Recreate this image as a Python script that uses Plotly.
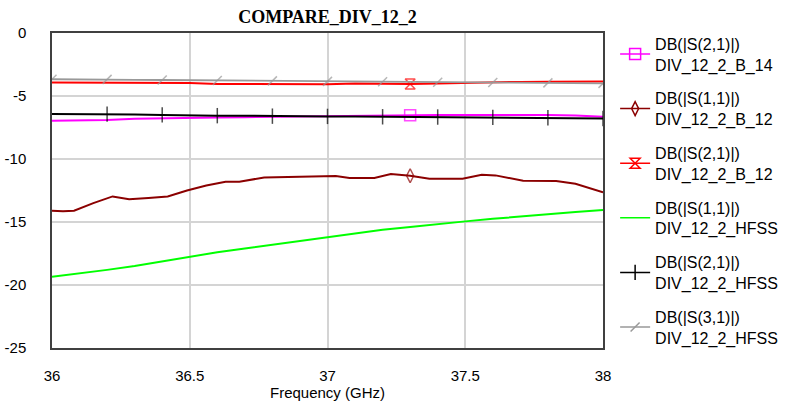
import plotly.graph_objects as go

# ---------------- data ----------------
hfss_freq = [36.0, 36.1, 36.2, 36.3, 36.4, 36.5, 36.6, 36.7, 36.8, 36.9, 37.0,
             37.1, 37.2, 37.3, 37.4, 37.5, 37.6, 37.7, 37.8, 37.9, 38.0]
s11_hfss = [-19.35, -19.1, -18.8, -18.5, -18.12, -17.75, -17.4, -17.1, -16.8, -16.5, -16.2,
            -15.9, -15.62, -15.4, -15.15, -14.95, -14.75, -14.55, -14.37, -14.2, -14.05]
s21_hfss = [-6.43, -6.43, -6.44, -6.46, -6.5, -6.55, -6.56, -6.57, -6.6, -6.6, -6.62,
            -6.63, -6.65, -6.66, -6.67, -6.68, -6.7, -6.71, -6.73, -6.75, -6.78]
s31_hfss = [-3.67, -3.67, -3.68, -3.72, -3.73, -3.75, -3.77, -3.78, -3.8, -3.82, -3.84,
            -3.85, -3.87, -3.9, -3.91, -3.92, -3.93, -3.95, -3.96, -3.98, -4.0]
s21_hfss_marks = [0, 0, 1, 0, 1, 0, 1, 0, 1, 0, 1, 0, 1, 0, 1, 0, 1, 0, 1, 0, 1]
s31_hfss_marks = [1, 0, 1, 0, 1, 0, 1, 0, 1, 0, 1, 0, 1, 0, 1, 0, 1, 0, 1, 0, 1]

b_freq = [36.0, 36.1, 36.2, 36.3, 36.4, 36.5, 36.6, 36.7, 36.8, 36.9, 37.0,
          37.1, 37.2, 37.3, 37.4, 37.5, 37.6, 37.7, 37.8, 37.9, 38.0]
s21_b14 = [-6.97, -6.94, -6.9, -6.8, -6.75, -6.72, -6.7, -6.68, -6.65, -6.62, -6.58,
           -6.57, -6.55, -6.52, -6.51, -6.5, -6.49, -6.48, -6.5, -6.55, -6.65]
s21_b12 = [-3.92, -3.92, -3.92, -3.94, -3.95, -3.97, -4.05, -4.05, -4.05, -4.06, -4.07,
           -4.0, -4.02, -4.05, -4.0, -3.95, -3.92, -3.88, -3.87, -3.86, -3.85]
b_marks = [0, 0, 0, 0, 0, 0, 0, 0, 0, 0, 0, 0, 0, 1, 0, 0, 0, 0, 0, 0, 0]

s11_b12_freq = [36.0, 36.04, 36.08, 36.15, 36.22, 36.28, 36.35, 36.42, 36.49, 36.56, 36.63,
                36.68, 36.77, 36.85, 36.96, 37.03, 37.08, 37.17, 37.23, 37.3, 37.37, 37.49,
                37.56, 37.61, 37.71, 37.83, 37.9, 38.0]
s11_b12 = [-14.1, -14.15, -14.1, -13.5, -12.97, -13.2, -13.1, -12.97, -12.5, -12.1, -11.8,
           -11.8, -11.47, -11.42, -11.39, -11.35, -11.5, -11.5, -11.2, -11.33, -11.57, -11.57,
           -11.25, -11.3, -11.73, -11.75, -11.97, -12.65]
s11_b12_marks = [0, 0, 0, 0, 0, 0, 0, 0, 0, 0, 0, 0, 0, 0, 0, 0, 0, 0, 0, 1, 0, 0, 0, 0, 0, 0, 0, 0]

y_ticks = [0, -5, -10, -15, -20, -25]
y_tick_text = ["0", "-5", "-10", "-15", "-20", "-25"]
x_ticks = [36, 36.5, 37, 37.5, 38]
x_tick_text = ["36", "36.5", "37", "37.5", "38"]

names = ["DB(|S(2,1)|)<br>DIV_12_2_B_14",
         "DB(|S(1,1)|)<br>DIV_12_2_B_12",
         "DB(|S(2,1)|)<br>DIV_12_2_B_12",
         "DB(|S(1,1)|)<br>DIV_12_2_HFSS",
         "DB(|S(2,1)|)<br>DIV_12_2_HFSS",
         "DB(|S(3,1)|)<br>DIV_12_2_HFSS"]

fig = go.Figure()


def add(x, y, marks, name, color, symbol, msize, lw=2, mlw=1.5):
    sizes = [msize * m for m in marks]
    mode = "lines+markers" if symbol else "lines"
    fig.add_trace(go.Scatter(
        x=x, y=y, name=name, mode=mode, showlegend=False, legendgroup=name,
        line=dict(color=color, width=lw),
        marker=dict(symbol=symbol or "circle", size=sizes, color=color,
                    line=dict(color=color, width=mlw)),
    ))
    # legend entry (no data)
    fig.add_trace(go.Scatter(
        x=[None], y=[None], name=name, mode=mode, legendgroup=name,
        line=dict(color=color, width=lw - 0.5),
        marker=dict(symbol=symbol or "circle", size=msize, color=color,
                    line=dict(color=color, width=mlw)),
    ))


add(b_freq, s21_b14, b_marks, names[0], "#ff00ff", "square-open", 11)
add(s11_b12_freq, s11_b12, s11_b12_marks, names[1], "#8b0000", "diamond-tall-open", 10)
add(b_freq, s21_b12, b_marks, names[2], "#ff0000", "hourglass-open", 10)
add(hfss_freq, s11_hfss, [0] * len(hfss_freq), names[3], "#00ff00", None, 0)
add(hfss_freq, s21_hfss, s21_hfss_marks, names[4], "#000000", "line-ns", 11)
add(hfss_freq, s31_hfss, s31_hfss_marks, names[5], "#999999", "line-ne", 9, lw=1.8)

axis_common = dict(showgrid=True, gridcolor="#d4d4d4", gridwidth=1.5,
                   showline=True, linecolor="#404040", linewidth=1.5, mirror=True,
                   zeroline=False, ticks="",
                   tickfont=dict(family="Liberation Sans, Arial", size=15, color="#000"))

fig.update_layout(
    width=786, height=407,
    margin=dict(l=52, r=183, t=33, b=59, autoexpand=False),
    paper_bgcolor="white", plot_bgcolor="white",
    title=dict(text="<b>COMPARE_DIV_12_2</b>", x=(52 + 603) / 2 / 786, xanchor="center",
               y=1 - 17 / 407, yanchor="middle",
               font=dict(family="Liberation Serif, Times New Roman", size=18, color="#000")),
    xaxis=dict(range=[36, 38], tickvals=x_ticks, ticktext=x_tick_text,
               ticklabelstandoff=13,
               title=dict(text="Frequency (GHz)", standoff=3,
                          font=dict(family="Liberation Sans, Arial", size=15, color="#000")),
               **axis_common),
    yaxis=dict(range=[-25, 0], tickvals=y_ticks, ticktext=y_tick_text,
               ticklabelstandoff=21, **axis_common),
    legend=dict(x=1.022, y=1.02, xanchor="left", yanchor="top",
                font=dict(family="Liberation Sans, Arial", size=16, color="#000"),
                itemwidth=30, traceorder="grouped", tracegroupgap=10,
                maxheight=1.0,
                bgcolor="rgba(0,0,0,0)"),
    showlegend=True,
)

fig.write_html("out.html")
